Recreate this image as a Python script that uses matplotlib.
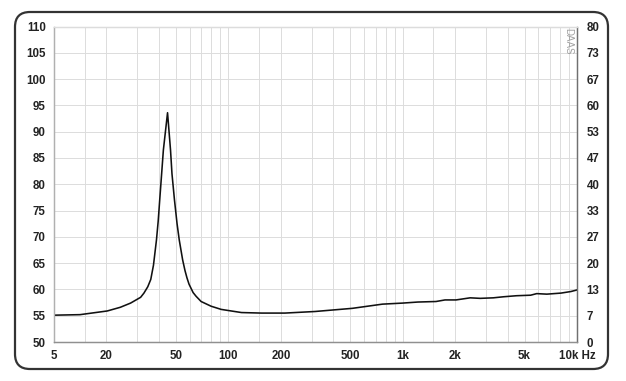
import matplotlib
matplotlib.use("Agg")
import matplotlib.pyplot as plt
from matplotlib.patches import FancyBboxPatch

plt.rcParams['font.family'] = ['Liberation Sans', 'DejaVu Sans']

# Data
freq_hz = [10, 14.1, 20.2, 24, 27.5, 31.4, 32.8, 34.5, 35.9, 37.2, 38.7, 39.6,
           40.4, 42.4, 44.8, 46.6, 47.5, 49.1, 50.8, 52.3, 54.7, 56.4, 57.9,
           59.5, 62.8, 65.3, 69.8, 79.7, 91, 104, 119, 155,
           211, 314, 514, 766, 1000, 1222, 1553, 1749, 2024, 2439, 2786, 3311,
           3784, 4500, 5420, 5873, 6714, 8091, 9231, 10000]
spl_db = [55.1, 55.2, 55.9, 56.6, 57.4, 58.5, 59.3, 60.5, 61.9, 64.6, 69.4, 73.0,
          77.0, 86.5, 93.6, 86.5, 82.0, 77.0, 72.5, 69.4, 65.6, 63.6, 62.2,
          61.0, 59.4, 58.7, 57.7, 56.8, 56.2, 55.9, 55.6, 55.5,
          55.5, 55.8, 56.4, 57.2, 57.4, 57.6, 57.7, 58.0, 58.0, 58.4, 58.3, 58.4,
          58.6, 58.8, 58.9, 59.2, 59.1, 59.3, 59.6, 59.9]

x_ticks = [10, 20, 50, 100, 200, 500, 1000, 2000, 5000, 10000]
x_tick_labels = ["5", "20", "50", "100", "200", "500", "1k", "2k", "5k", "10k Hz"]
x_grid = [15, 20, 30, 40, 50, 60, 70, 80, 90, 100, 150, 200, 300, 400, 500, 600,
          700, 800, 900, 1000, 1500, 2000, 3000, 4000, 5000, 6000, 7000, 8000, 9000]
left_ticks = [50, 55, 60, 65, 70, 75, 80, 85, 90, 95, 100, 105, 110]
right_labels = ["0", "7", "13", "20", "27", "33", "40", "47", "53", "60", "67", "73", "80"]

W, H = 626, 381
fig = plt.figure(figsize=(W / 100, H / 100), dpi=100)
fig.patch.set_facecolor("white")

ax = fig.add_axes([54 / W, (H - 342) / H, 523 / W, (342 - 26.5) / H])
ax.set_xscale("log")
ax.set_xlim(10, 10000)
ax.set_ylim(50, 110)

for g in x_grid:
    ax.axvline(g, color="#dcdcdc", lw=0.7, zorder=0)
for t in left_ticks:
    ax.axhline(t, color="#dcdcdc", lw=0.7, zorder=0)

ax.plot(freq_hz, spl_db, color="#111111", lw=1.15, zorder=3)

ax.set_xticks(x_ticks)
ax.set_xticklabels(x_tick_labels)
ax.xaxis.set_minor_locator(matplotlib.ticker.NullLocator())
ax.set_yticks(left_ticks)
ax.set_yticklabels([str(t) for t in left_ticks])
ax.tick_params(axis="both", length=0, labelsize=8.3, colors="#222222", pad=6)
for lab in ax.get_xticklabels() + ax.get_yticklabels():
    lab.set_fontweight("bold")

ax2 = ax.twinx()
ax2.set_ylim(50, 110)
ax2.set_yticks(left_ticks)
ax2.set_yticklabels(right_labels)
ax2.tick_params(axis="y", length=0, labelsize=8.3, colors="#222222", pad=7)
for lab in ax2.get_yticklabels():
    lab.set_fontweight("bold")

for a in (ax, ax2):
    a.spines["top"].set_color("#dcdcdc")
    a.spines["top"].set_linewidth(0.7)
    a.spines["left"].set_color("#b0b0b0")
    a.spines["bottom"].set_color("#909090")
    a.spines["right"].set_color("#707070")
    for s in a.spines.values():
        s.set_linewidth(0.9)

ax.text(0.993, 0.995, "DAAS", transform=ax.transAxes, rotation=270,
        ha="right", va="top", fontsize=7, color="#a0a0a0")

border = FancyBboxPatch((15, 12), 593, 357, boxstyle="round,pad=0,rounding_size=15",
                        transform=None, fill=False, edgecolor="#333333", lw=1.6)
fig.add_artist(border)

fig.savefig("out.png", dpi=100)
